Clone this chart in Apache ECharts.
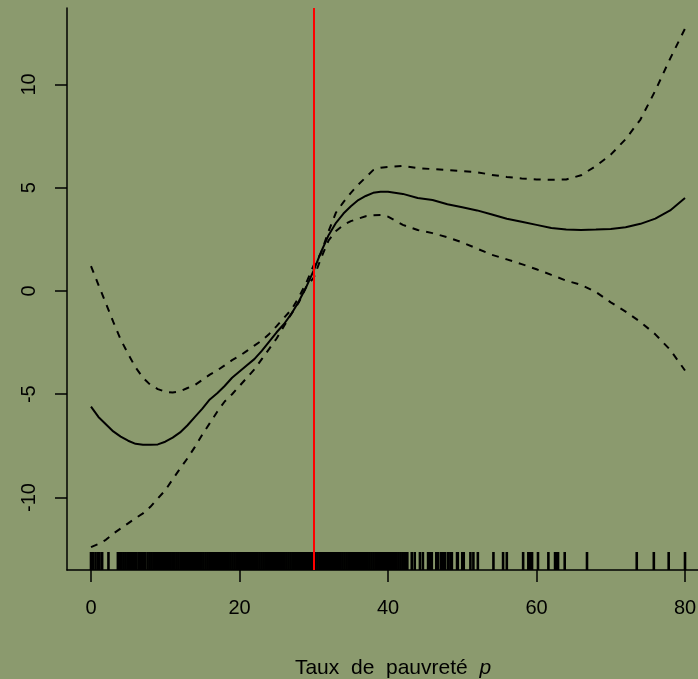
<!DOCTYPE html>
<html>
<head>
<meta charset="utf-8">
<script src="https://cdn.jsdelivr.net/npm/echarts@6/dist/echarts.min.js"></script>
<style>
  html, body { margin: 0; padding: 0; background: #8b9a6e; }
  #main { width: 698px; height: 679px; }
</style>
</head>
<body>
<div id="main"></div>
<script>
// abscisses de la courbe lissée
var xs = [0,1,2,3,4,5,6,7,8,9,10,11,12,13,14,15,16,17,18,19,20,21,22,23,24,25,26,27,28,29,30,31,32,33,34,35,36,37,38,39,40,42,44,46,48,50,52,54,56,58,60,62,64,66,68,70,72,74,76,78,80];
// effet estimé
var fit = [-5.6,-6.1,-6.45,-6.8,-7.05,-7.25,-7.4,-7.45,-7.45,-7.43,-7.3,-7.1,-6.85,-6.5,-6.1,-5.7,-5.25,-4.95,-4.6,-4.2,-3.9,-3.6,-3.3,-2.9,-2.45,-2.0,-1.6,-1.1,-0.5,0.2,1.0,1.9,2.7,3.3,3.75,4.1,4.4,4.6,4.75,4.8,4.8,4.7,4.5,4.4,4.2,4.05,3.9,3.7,3.5,3.35,3.2,3.05,2.98,2.95,2.97,3.0,3.08,3.25,3.5,3.9,4.5];
// bande de confiance
var upper = [1.2,0.3,-0.6,-1.5,-2.35,-3.05,-3.7,-4.2,-4.55,-4.75,-4.88,-4.92,-4.86,-4.7,-4.55,-4.3,-4.05,-3.85,-3.6,-3.35,-3.15,-2.9,-2.65,-2.4,-2.08,-1.7,-1.3,-0.9,-0.3,0.4,1.25,1.85,2.9,3.8,4.3,4.75,5.15,5.5,5.85,5.97,6.0,6.05,5.95,5.9,5.85,5.8,5.75,5.62,5.52,5.45,5.4,5.38,5.4,5.6,6.05,6.6,7.35,8.3,9.7,11.25,12.7];
var lower = [-12.4,-12.25,-12.05,-11.75,-11.5,-11.25,-11.0,-10.77,-10.45,-10.05,-9.65,-9.12,-8.6,-8.1,-7.55,-6.95,-6.4,-5.85,-5.35,-5.0,-4.6,-4.2,-3.8,-3.3,-2.8,-2.3,-1.7,-1.1,-0.55,0.2,0.65,1.6,2.45,2.9,3.2,3.38,3.5,3.62,3.67,3.68,3.6,3.2,2.95,2.8,2.6,2.35,2.05,1.75,1.53,1.3,1.05,0.78,0.5,0.3,-0.05,-0.55,-1.0,-1.5,-2.1,-2.85,-3.85];
// observations (rug)
var rug = [0.0,0.25,0.6,0.9,1.15,1.5,2.35,
  3.62,3.88,4.11,4.37,4.63,4.9,5.14,5.41,5.66,5.92,6.02,6.38,6.64,6.9,7.17,7.3,7.62,7.88,8.13,8.4,8.66,8.91,9.18,9.44,9.7,9.95,
  10.22,10.48,10.73,11.0,11.26,11.52,11.77,12.04,12.3,12.55,12.81,13.08,13.34,13.6,13.85,14.12,14.38,14.64,14.9,15.15,15.42,15.68,15.94,16.2,16.46,16.72,16.98,17.24,17.5,17.75,18.02,18.28,18.54,18.8,19.06,19.32,19.58,19.84,
  20.1,20.36,20.62,20.88,21.14,21.4,21.66,21.92,22.18,22.44,22.7,22.96,23.22,23.48,23.74,24.0,24.26,24.52,24.78,25.04,25.3,25.56,25.82,26.08,26.34,26.6,26.86,27.12,27.38,27.64,27.9,28.16,28.42,28.68,28.94,29.2,29.46,29.72,29.98,
  30.24,30.5,30.76,31.02,31.28,31.54,31.8,32.06,32.32,32.58,32.84,33.1,33.36,33.62,33.88,34.14,34.4,34.66,34.92,35.18,35.44,35.7,35.96,36.22,36.48,36.74,37.0,37.26,37.52,37.78,38.04,38.3,38.56,38.82,39.08,39.34,39.6,39.86,40.12,40.38,40.64,40.9,41.16,41.42,41.68,41.94,42.2,42.46,42.6,
  43.2,43.6,44.3,44.7,45.4,45.7,45.9,46.5,46.7,47.1,47.4,47.7,48.1,48.4,48.6,49.3,49.4,50.0,50.2,51.1,51.5,52.1,54.2,55.5,56.0,58.2,58.9,59.1,59.4,60.2,61.6,62.5,62.7,62.9,63.8,66.8,73.5,75.8,77.8,80.0];
var xTicks = [0, 20, 40, 60, 80];
var yTicks = [-10, -5, 0, 5, 10];
var seuil = 30;

var yMin = -13.51, yMax = 13.70;

function pairs(a, b) {
  return a.map(function (v, i) { return [v, b[i]]; });
}

var myChart = echarts.init(document.getElementById('main'));
var font = 'Liberation Sans, Arial, sans-serif';
option = {
  backgroundColor: '#8b9a6e',
  animation: false,
  title: {
    text: '{a|Taux  de  pauvreté  }{b|p}',
    left: 388,
    top: 653,
    textAlign: 'center',
    textStyle: {
      fontWeight: 'normal',
      rich: {
        a: { fontSize: 21, fontFamily: font, color: '#000', fontWeight: 'normal' },
        b: { fontSize: 21, fontFamily: font, color: '#000', fontWeight: 'normal', fontStyle: 'italic' }
      }
    }
  },
  grid: { left: 67, top: 8, right: 0, bottom: 109, outerBoundsMode: 'none' },
  xAxis: {
    type: 'value',
    min: -3.232,
    max: 81.75,
    splitLine: { show: false },
    axisLine: { onZero: false, lineStyle: { color: '#000', width: 1.5 } },
    axisTick: { customValues: xTicks, length: 12, lineStyle: { color: '#000', width: 1.5 } },
    axisLabel: { customValues: xTicks, margin: 28, fontSize: 20, fontFamily: font, color: '#000' }
  },
  yAxis: {
    type: 'value',
    min: yMin,
    max: yMax,
    splitLine: { show: false },
    axisLine: { onZero: false, lineStyle: { color: '#000', width: 1.5 } },
    axisTick: { customValues: yTicks, length: 12, lineStyle: { color: '#000', width: 1.5 } },
    axisLabel: { customValues: yTicks, rotate: 90, margin: 28, fontSize: 20, fontFamily: font, color: '#000' }
  },
  series: [
    {
      type: 'scatter',
      silent: true,
      clip: false,
      symbol: 'rect',
      symbolSize: [2.6, 18],
      symbolOffset: [0, -9],
      itemStyle: { color: '#000', opacity: 1 },
      data: rug.map(function (v) { return [v, yMin]; })
    },
    {
      type: 'line',
      silent: true,
      showSymbol: false,
      data: pairs(xs, upper),
      lineStyle: { color: '#000', width: 2, type: [7, 7] }
    },
    {
      type: 'line',
      silent: true,
      showSymbol: false,
      data: pairs(xs, lower),
      lineStyle: { color: '#000', width: 2, type: [7, 7] }
    },
    {
      type: 'line',
      silent: true,
      showSymbol: false,
      data: pairs(xs, fit),
      lineStyle: { color: '#000', width: 2 }
    },
    {
      type: 'line',
      silent: true,
      z: 10,
      data: [],
      markLine: {
        silent: true,
        symbol: 'none',
        label: { show: false },
        lineStyle: { color: '#ff0000', width: 2, type: 'solid' },
        data: [{ xAxis: seuil }]
      }
    }
  ]
};
myChart.setOption(option);
window.onresize = function () {
  myChart.resize();
};
</script>
</body>
</html>
